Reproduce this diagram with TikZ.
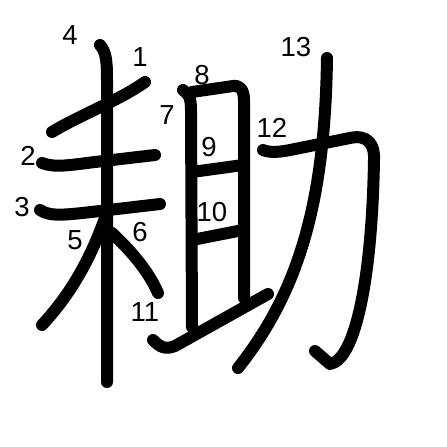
\documentclass[tikz,border=0pt]{standalone}
\usepackage{fontspec}
\setmainfont{Liberation Sans}
\begin{document}
\begin{tikzpicture}[x=1pt,y=-1pt,
  strokeline/.style={line width=12pt,line cap=round,line join=round},
  num/.style={font=\fontsize{27.5}{27.5}\selectfont,inner sep=0pt}]
\useasboundingbox (0,0) rectangle (447,447);
% strokes
\draw[strokeline] (145,82) .. controls (120,100) and (80,115) .. (52,132);
\draw[strokeline] (42,163) .. controls (55,168) and (70,165) .. (95,162) -- (155,155);
\draw[strokeline] (40,210) .. controls (50,217) and (65,215) .. (100,211) -- (160,204);
\draw[strokeline] (100,45) .. controls (106,52) and (107,60) .. (107,80) -- (107,382);
\draw[strokeline] (105,218) .. controls (90,260) and (70,295) .. (42,325);
\draw[strokeline] (112,233) .. controls (130,250) and (148,270) .. (158,293);
\draw[strokeline] (183,90) .. controls (188,94) and (191,96) .. (191,110) -- (192,327);
\draw[strokeline] (192,92) -- (233,86) .. controls (240,85) and (244,90) .. (244,100) -- (244,298);
\draw[strokeline] (192,172) -- (243,165);
\draw[strokeline] (192,240) -- (243,230);
\draw[strokeline] (153,340) .. controls (160,347) and (165,350) .. (175,346) -- (268,294);
\draw[strokeline] (263,150) .. controls (270,153) and (280,152) .. (290,150) -- (350,138) .. controls (368,134) and (375,145) .. (374,160) .. controls (372,280) and (355,360) .. (330,364) -- (315,351);
\draw[strokeline] (327,58) .. controls (325,200) and (300,290) .. (238,368);
% numbers
\node[num] (n1) at (140,57) {1};
\node[num] (n2) at (28,156) {2};
\node[num] (n3) at (22,207) {3};
\node[num] (n4) at (70,35) {4};
\node[num] (n5) at (75,240) {5};
\node[num] (n6) at (140,232) {6};
\node[num] (n7) at (167,115) {7};
\node[num] (n8) at (202,75) {8};
\node[num] (n9) at (209,147) {9};
\node[num] (n10) at (212,212) {10};
\node[num] (n11) at (145,312) {11};
\node[num] (n12) at (272,128) {12};
\node[num] (n13) at (296,47) {13};
\end{tikzpicture}
\end{document}
